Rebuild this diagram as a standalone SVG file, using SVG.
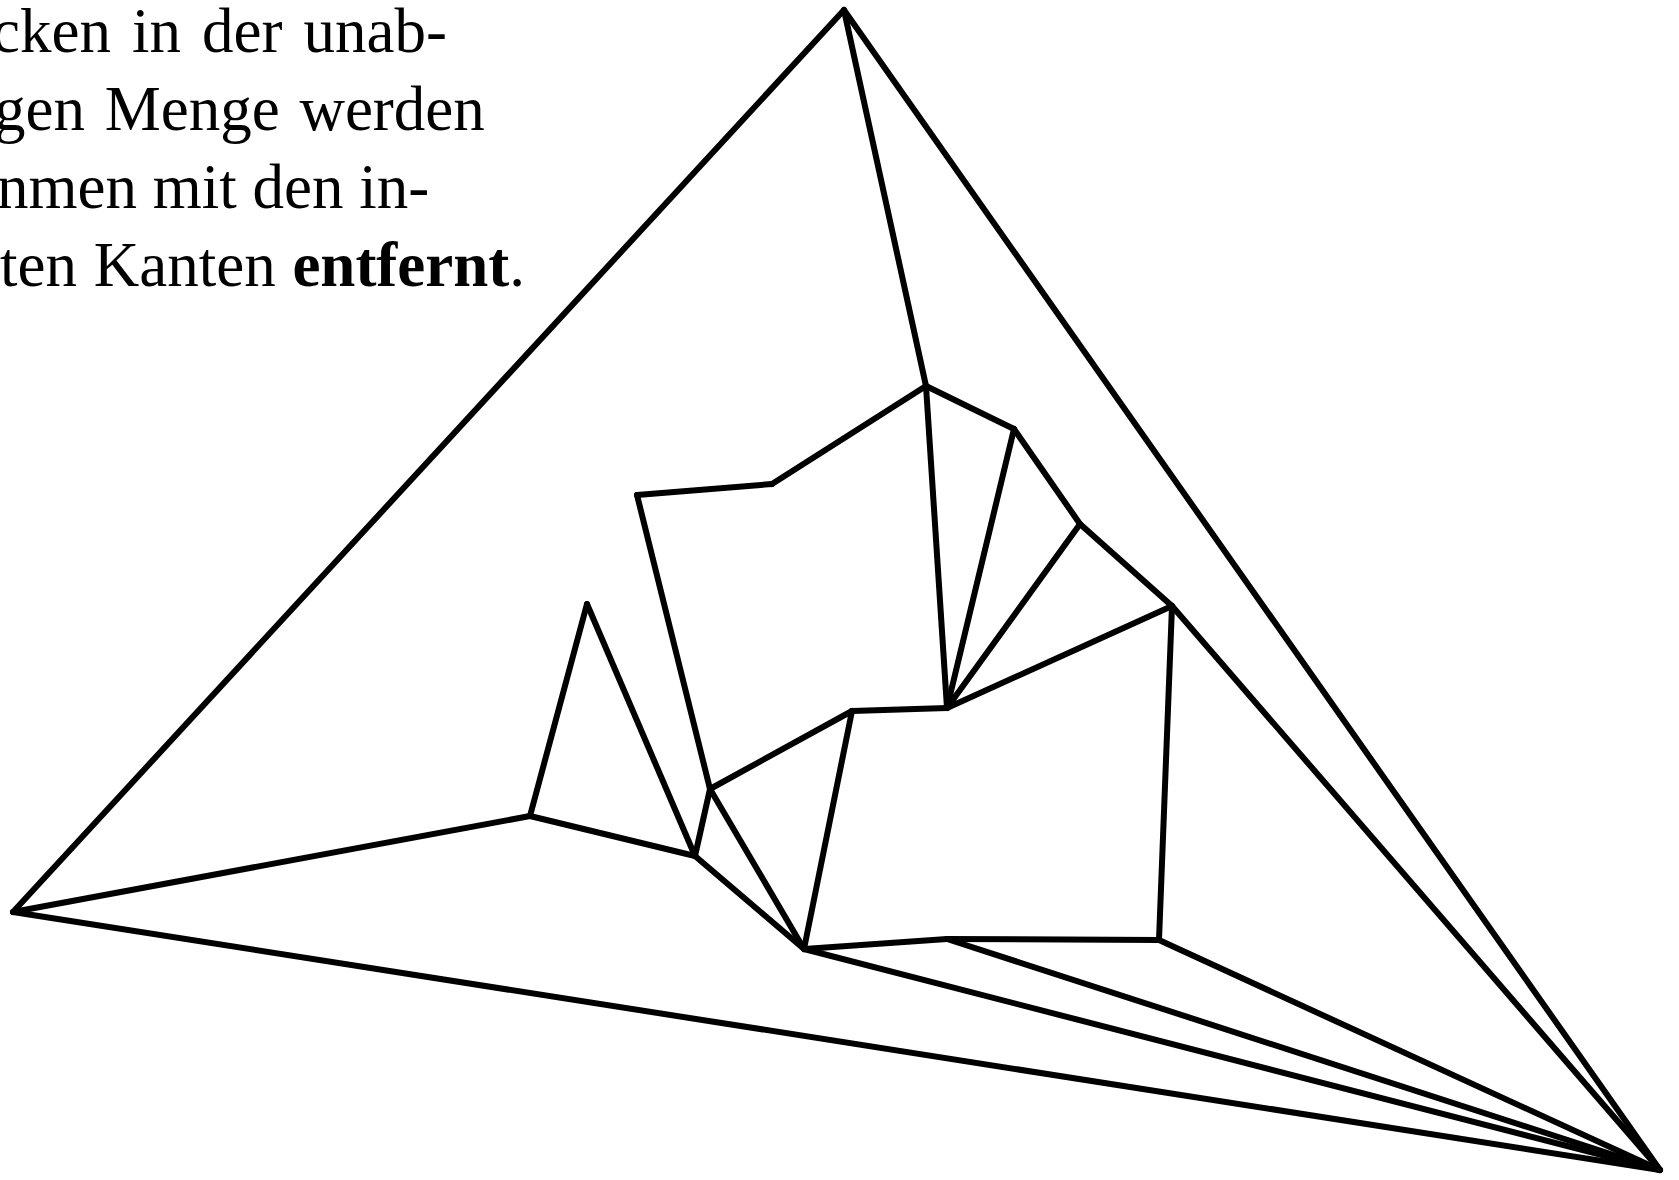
<svg xmlns="http://www.w3.org/2000/svg" width="1679" height="1180" viewBox="0 0 1679 1180">
<style>
.t{font-family:"Liberation Serif","Times New Roman",serif;font-size:63px;fill:#000}
.b{font-weight:bold}
.e{stroke:#000;stroke-width:6;stroke-linecap:round;fill:none}
</style>
<rect width="1679" height="1180" fill="#fff"/>
<g id="caption">
<text class="t" x="-8" y="51.5" word-spacing="5.3">cken in der unab-</text>
<text class="t" x="-6" y="129.5" word-spacing="4">gen Menge werden</text>
<text class="t" x="-3" y="207.5">nmen mit den in-</text>
<text class="t" x="0" y="285.5" word-spacing="1">ten Kanten <tspan class="b">entfernt</tspan>.</text>
</g>
<g id="edges" class="e">
<line x1="844" y1="10" x2="13" y2="912"/>
<line x1="844" y1="10" x2="1660" y2="1170"/>
<line x1="13" y1="912" x2="1660" y2="1170"/>
<line x1="844" y1="10" x2="926" y2="386"/>
<line x1="926" y1="386" x2="772" y2="484"/>
<line x1="772" y1="484" x2="637" y2="495"/>
<line x1="637" y1="495" x2="710" y2="789"/>
<line x1="926" y1="386" x2="1014" y2="429"/>
<line x1="1014" y1="429" x2="1080" y2="524"/>
<line x1="1080" y1="524" x2="1172" y2="606"/>
<line x1="926" y1="386" x2="947" y2="708"/>
<line x1="1014" y1="429" x2="947" y2="708"/>
<line x1="1080" y1="524" x2="947" y2="708"/>
<line x1="1172" y1="606" x2="947" y2="708"/>
<line x1="947" y1="708" x2="852" y2="711"/>
<line x1="852" y1="711" x2="710" y2="789"/>
<line x1="852" y1="711" x2="804" y2="949"/>
<line x1="710" y1="789" x2="695" y2="856"/>
<line x1="710" y1="789" x2="804" y2="949"/>
<line x1="587" y1="604" x2="530" y2="816"/>
<line x1="587" y1="604" x2="695" y2="856"/>
<line x1="13" y1="912" x2="530" y2="816"/>
<line x1="530" y1="816" x2="695" y2="856"/>
<line x1="695" y1="856" x2="804" y2="949"/>
<line x1="804" y1="949" x2="947" y2="939"/>
<line x1="947" y1="939" x2="1159" y2="940"/>
<line x1="1159" y1="940" x2="1172" y2="606"/>
<line x1="1172" y1="606" x2="1660" y2="1170"/>
<line x1="1159" y1="940" x2="1660" y2="1170"/>
<line x1="947" y1="939" x2="1660" y2="1170"/>
<line x1="804" y1="949" x2="1660" y2="1170"/>
</g>
</svg>
